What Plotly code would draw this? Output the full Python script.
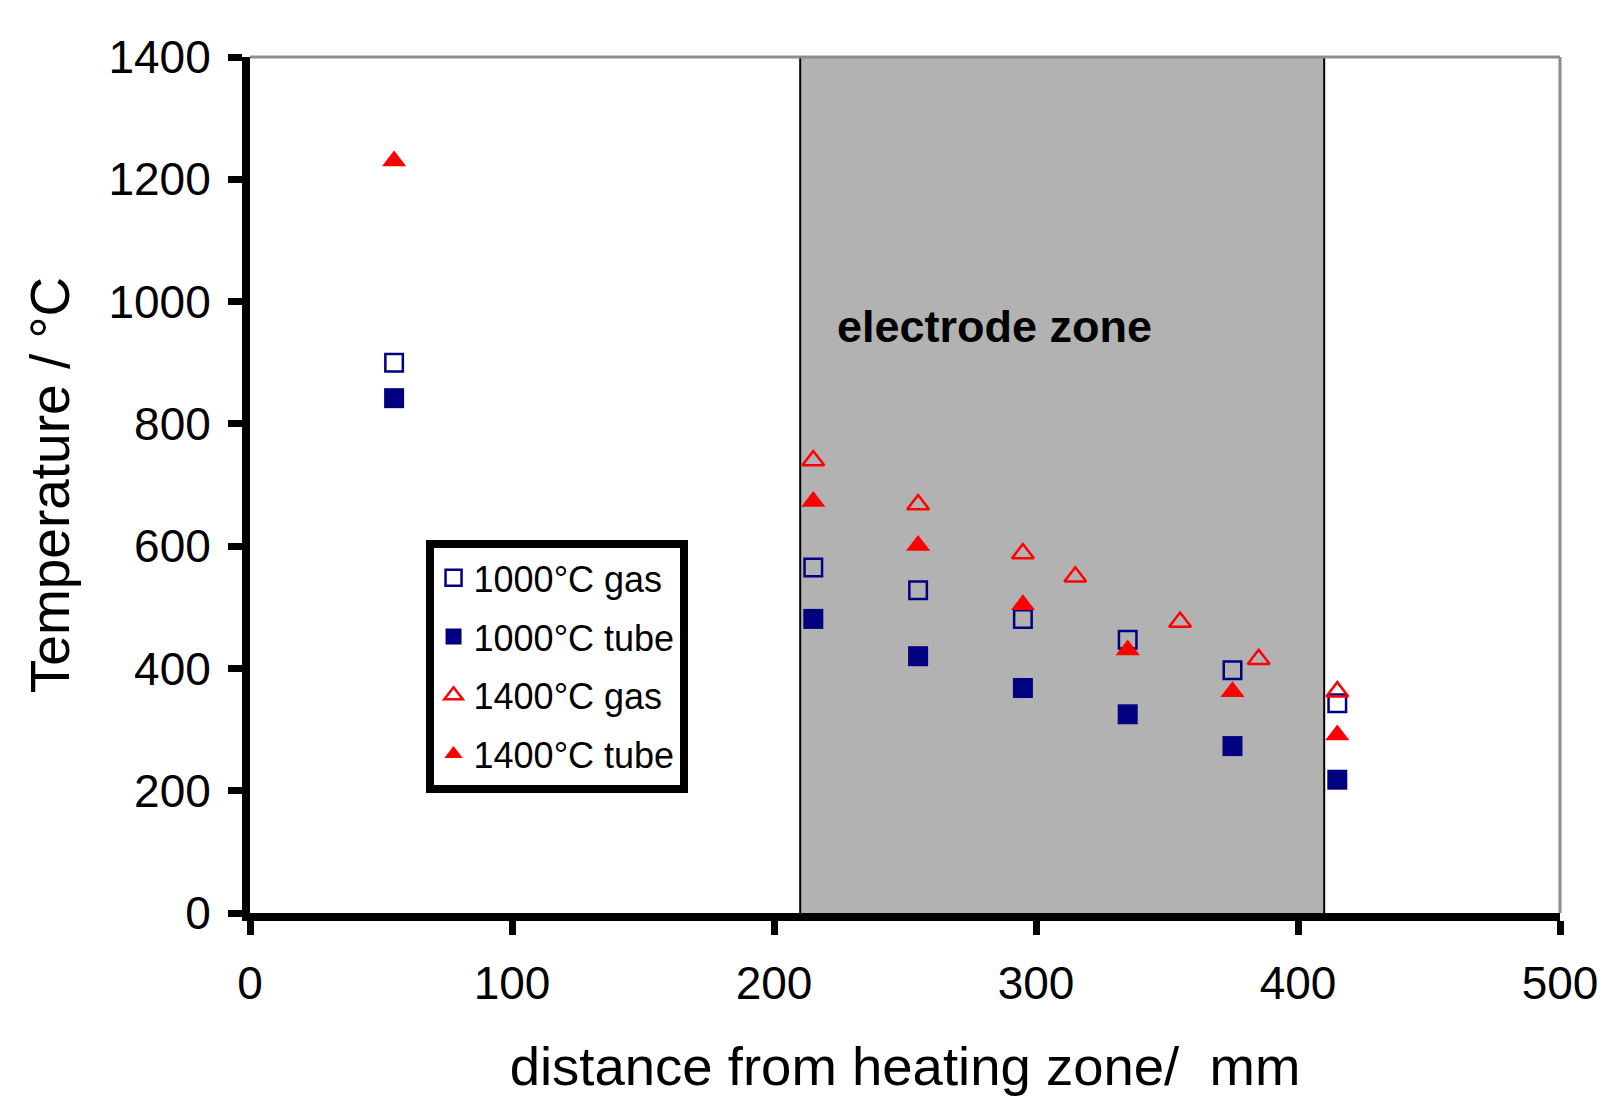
import plotly.graph_objects as go

# ---- data ----
x_1000_gas = [55, 215, 255, 295, 335, 375, 415]
y_1000_gas = [900, 565, 528, 481, 447, 397, 343]

x_1000_tube = [55, 215, 255, 295, 335, 375, 415]
y_1000_tube = [842, 481, 420, 368, 325, 273, 218]

x_1400_gas = [215, 255, 295, 315, 355, 385, 415]
y_1400_gas = [740, 668, 588, 550, 476, 415, 362]

x_1400_tube = [55, 215, 255, 295, 335, 375, 415]
y_1400_tube = [1230, 673, 601, 504, 430, 362, 291]

zone_start, zone_end = 210, 410
zone_label = "electrode zone"

x_ticks = [0, 100, 200, 300, 400, 500]
y_ticks = [0, 200, 400, 600, 800, 1000, 1200, 1400]

FONT = "Liberation Sans, Arial, sans-serif"
NAVY = "#000080"
RED = "#ff0000"

fig = go.Figure()

fig.add_trace(go.Scatter(
    x=x_1000_gas, y=y_1000_gas, mode="markers", name="1000°C gas",
    legendgroup="a",
    marker=dict(symbol="square-open", size=17.5, color=NAVY, line=dict(width=2.5, color=NAVY))))
fig.add_trace(go.Scatter(
    x=x_1000_tube, y=y_1000_tube, mode="markers", name="1000°C tube",
    legendgroup="b",
    marker=dict(symbol="square", size=20, color=NAVY, line=dict(width=0))))
fig.add_trace(go.Scatter(
    x=x_1400_gas, y=y_1400_gas, mode="markers", name="1400°C gas",
    legendgroup="c",
    marker=dict(symbol="triangle-up-open", size=19, color=RED, line=dict(width=2.5, color=RED))))
fig.add_trace(go.Scatter(
    x=x_1400_tube, y=y_1400_tube, mode="markers", name="1400°C tube",
    legendgroup="d",
    marker=dict(symbol="triangle-up", size=21, color=RED, line=dict(width=0))))

shapes = [
    dict(type="rect", xref="x", yref="y", x0=zone_start, x1=zone_end, y0=0, y1=1400,
         fillcolor="#b2b2b2", line=dict(width=0), layer="below"),
    dict(type="line", xref="x", yref="y", x0=zone_start, x1=zone_start, y0=0, y1=1400,
         line=dict(color="black", width=2), layer="below"),
    dict(type="line", xref="x", yref="y", x0=zone_end, x1=zone_end, y0=0, y1=1400,
         line=dict(color="black", width=2), layer="below"),
    dict(type="line", xref="paper", yref="paper", x0=0, x1=1, y0=1, y1=1,
         line=dict(color="#8c8c8c", width=3)),
    dict(type="line", xref="paper", yref="paper", x0=1, x1=1, y0=0, y1=1,
         line=dict(color="#8c8c8c", width=3)),
]

fig.update_layout(
    width=1610, height=1101,
    margin=dict(l=250, r=39, t=57, b=184),
    paper_bgcolor="white", plot_bgcolor="white",
    font=dict(family=FONT, color="black"),
    shapes=shapes,
    hovermode=False,
    annotations=[dict(x=284, y=960, xref="x", yref="y", text="<b>" + zone_label + "</b>",
                      showarrow=False, font=dict(size=45, family=FONT, color="black"))],
    legend=dict(x=0.134, y=0.436, xanchor="left", yanchor="top",
                bgcolor="white", bordercolor="black", borderwidth=8,
                font=dict(size=36, family=FONT, color="black"),
                tracegroupgap=9, itemsizing="trace"),
    showlegend=True,
)

fig.update_xaxes(
    range=[0, 500], tickvals=x_ticks, ticktext=[str(v) for v in x_ticks],
    showgrid=False, zeroline=False,
    showline=True, linewidth=8, linecolor="black",
    ticks="outside", ticklen=14, tickwidth=7, tickcolor="black",
    tickfont=dict(size=46, family=FONT, color="black"), ticklabelstandoff=9,
    ticklabeloverflow="allow",
    title=dict(text="distance from heating zone/\u00a0 mm", font=dict(size=54.5, family=FONT, color="black"),
               standoff=42),
)
fig.update_yaxes(
    range=[0, 1400], tickvals=y_ticks, ticktext=[str(v) for v in y_ticks],
    showgrid=False, zeroline=False,
    showline=True, linewidth=8, linecolor="black",
    ticks="outside", ticklen=14, tickwidth=7, tickcolor="black",
    tickfont=dict(size=46, family=FONT, color="black"), ticklabelstandoff=8,
    title=dict(text="Temperature / °C", font=dict(size=55, family=FONT, color="black"),
               standoff=24),
)

fig.write_html("out.html", config={"displayModeBar": False, "staticPlot": True},
               post_script="document.body.style.margin='0px';")
